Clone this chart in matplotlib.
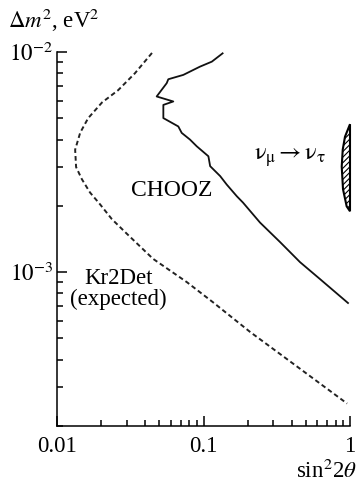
import matplotlib
matplotlib.use('Agg')
import matplotlib.pyplot as plt
from matplotlib.ticker import LogLocator, FixedLocator, FuncFormatter, NullFormatter

plt.rcParams['font.family'] = ['Liberation Serif', 'DejaVu Serif']
plt.rcParams['mathtext.fontset'] = 'stix'
plt.rcParams['hatch.linewidth'] = 0.8

# Kr2Det expected sensitivity (dashed)
kr2det_sin2 = [0.0445, 0.0340, 0.0261, 0.0203, 0.0163, 0.0144, 0.0133, 0.0135,
               0.0148, 0.0168, 0.0197, 0.0237, 0.0301, 0.0452, 0.0771, 0.116,
               0.208, 0.456, 0.955]
kr2det_dm2 = [9.9e-3, 8.0e-3, 6.7e-3, 5.9e-3, 5.0e-3, 4.3e-3, 3.6e-3, 3.0e-3,
              2.64e-3, 2.30e-3, 2.03e-3, 1.74e-3, 1.49e-3, 1.15e-3, 9.0e-4,
              7.3e-4, 5.35e-4, 3.64e-4, 2.53e-4]

# CHOOZ exclusion contour (solid)
chooz_sin2 = [0.135, 0.114, 0.0946, 0.0728, 0.0575, 0.0561, 0.0518, 0.0479,
              0.0622, 0.0532, 0.0532, 0.0673, 0.0710, 0.0809, 0.0899, 0.108,
              0.111, 0.130, 0.144, 0.169, 0.186, 0.243, 0.333, 0.456, 0.624,
              0.969]
chooz_dm2 = [9.86e-3, 9.04e-3, 8.58e-3, 7.87e-3, 7.52e-3, 7.22e-3, 6.73e-3,
             6.28e-3, 5.96e-3, 5.75e-3, 5.01e-3, 4.59e-3, 4.29e-3, 4.00e-3,
             3.73e-3, 3.36e-3, 3.03e-3, 2.73e-3, 2.50e-3, 2.21e-3, 2.07e-3,
             1.68e-3, 1.37e-3, 1.11e-3, 9.3e-4, 7.24e-4]

# nu_mu -> nu_tau allowed region (hatched)
numu_sin2 = [1.0, 0.924, 0.892, 0.878, 0.896, 0.949, 1.0, 1.0]
numu_dm2 = [4.70e-3, 4.12e-3, 3.60e-3, 3.02e-3, 2.38e-3, 1.99e-3, 1.89e-3, 4.70e-3]

fig = plt.figure(figsize=(3.59, 4.83), dpi=100)
ax = fig.add_axes([57/359, 1 - 426/483, 293/359, 374/483])

ax.plot(kr2det_sin2, kr2det_dm2, color='#222222', lw=1.4, linestyle=(0, (2.4, 1.6)))
ax.plot(chooz_sin2, chooz_dm2, color='#111111', lw=1.3)
ax.fill(numu_sin2, numu_dm2, facecolor='white', edgecolor='black', hatch='//////',
        lw=1.5, clip_on=False)

ax.set_xscale('log')
ax.set_yscale('log')
ax.set_xlim(0.01, 1)
ax.set_ylim(2.0e-4, 1e-2)

ax.spines['top'].set_visible(False)
ax.spines['right'].set_visible(False)
for s in ['left', 'bottom']:
    ax.spines[s].set_linewidth(1.1)

ax.xaxis.set_major_locator(FixedLocator([0.01, 0.1, 1]))
ax.xaxis.set_minor_locator(LogLocator(base=10, subs=range(2, 10)))
ax.xaxis.set_major_formatter(FuncFormatter(lambda v, p: {0.01: '0.01', 0.1: '0.1', 1: '1'}.get(round(v, 3), '')))
ax.xaxis.set_minor_formatter(NullFormatter())

ax.yaxis.set_major_locator(FixedLocator([1e-3, 1e-2]))
ax.yaxis.set_minor_locator(LogLocator(base=10, subs=range(2, 10)))
ax.yaxis.set_major_formatter(FuncFormatter(lambda v, p: r'$10^{-2}$' if v > 5e-3 else r'$10^{-3}$'))
ax.yaxis.set_minor_formatter(NullFormatter())

ax.tick_params(which='both', direction='in', width=1.1, labelsize=16.5)
ax.tick_params(which='major', length=7)
ax.tick_params(which='minor', length=4.5)
ax.tick_params(axis='y', which='major', pad=3)
ax.tick_params(axis='x', which='major', pad=7)

fig.text(8/359, 1 - 28/483, r'$\Delta m^2$, eV$^2$', fontsize=16.5, ha='left', va='baseline')
fig.text(357/359, 1 - 478/483, r'sin$^2$2$\theta$', fontsize=16.5, ha='right', va='baseline')

ax.text(0.061, 2.35e-3, 'CHOOZ', fontsize=17, ha='center', va='center')
ax.text(0.0262, 8.4e-4, 'Kr2Det\n(expected)', fontsize=16.5, ha='center', va='center',
        linespacing=1.0)
ax.text(0.39, 3.3e-3, r'$\mathrm{\nu_{\mu} \rightarrow \nu_{\tau}}$', fontsize=17.5,
        ha='center', va='center')

fig.savefig('out.png', dpi=100)
